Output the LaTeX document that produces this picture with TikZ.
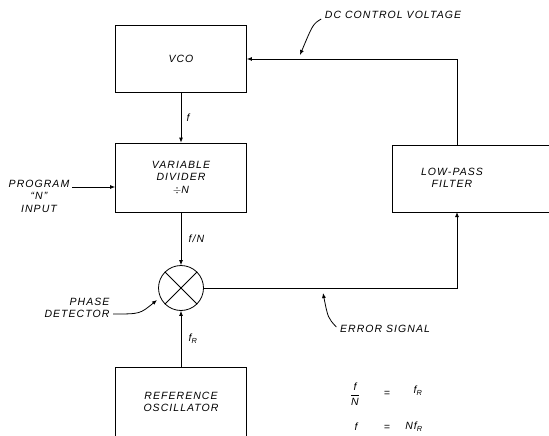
\documentclass[tikz,border=0pt]{standalone}
\usepackage{fontspec}
\setmainfont{Liberation Sans}[LetterSpace=10]
\usetikzlibrary{arrows.meta}
\begin{document}
\begin{tikzpicture}[x=1pt,y=-1pt,line width=0.8pt,
    font=\fontsize{10.5}{12.5}\selectfont\itshape,
    box/.style={draw,minimum width=131pt,minimum height=67pt,align=center},
    arr/.style={-{Latex[length=5pt,width=4pt]}}]
	\useasboundingbox (0,0) rectangle (549,436);

	\node[box] (vco) at (181,58.5) {VCO};
	\node[box,minimum height=69pt] (div) at (181,177.5) {VARIABLE\\DIVIDER\\$\div$N};
	\node[box,minimum width=170pt,anchor=west] (lpf) at (392,178.5) {};
	\node[align=center] (lpftext) at (452,178) {LOW-PASS\\FILTER};
	\node[box,minimum height=70pt] (ref) at (181,402) {REFERENCE\\OSCILLATOR};
	\node[draw,circle,minimum size=45pt,inner sep=0pt] (det) at (181,288) {};
	\draw (det.45) -- (det.225);
	\draw (det.135) -- (det.315);

	% forward path
	\draw[arr] (vco) -- (div) node[midway,right=2pt] {f};
	\draw[arr] (div) -- (det) node[midway,right=4pt] {f/N};
	\draw[arr] (ref) -- (det) node[midway,right=4pt] {f\textsubscript{R}};

	% loop back
	\coordinate (lpfin) at (457,212);
	\coordinate (lpfout) at (457,145);
	\coordinate (corner) at (457,59);
	\draw[arr] (det.east) -| (lpfin);
	\draw[arr] (lpfout) -- (corner) -- (vco.east |- corner);

	% program input
	\node[align=center] (prog) at (39,196) {PROGRAM\\``N''\\INPUT};
	\coordinate (progout) at (72,187);
	\draw[arr] (progout) -- (progout -| div.west);

	% callouts
	\node (dc) at (393,15) {DC CONTROL VOLTAGE};
	\coordinate (dctip) at (300,55);
	\draw[arr] (dc.west) ++(0,4) .. controls (313,24) .. (dctip);
	\node[align=right] (pd) at (77,308) {PHASE\\DETECTOR};
	\coordinate (pdtip) at (157,300);
	\draw[arr] (pd.east) ++(0,6) .. controls (140,314) .. (pdtip);
	\node (err) at (385,329) {ERROR SIGNAL};
	\coordinate (errtip) at (323,293);
	\draw[arr] (err.west) ++(0,-2) .. controls (328,318) .. (errtip);

	% relations
	\node (frac) at (355,394) {$\displaystyle\frac{\mbox{f}}{\mbox{N}}$};
	\node (eqa) at (387,394) {=};
	\node (fra) at (418,391) {f\textsubscript{R}};
	\node (fb) at (356,427) {f};
	\node (eqb) at (387,428) {=};
	\node (nfr) at (414,427) {Nf\textsubscript{R}};
\end{tikzpicture}
\end{document}
